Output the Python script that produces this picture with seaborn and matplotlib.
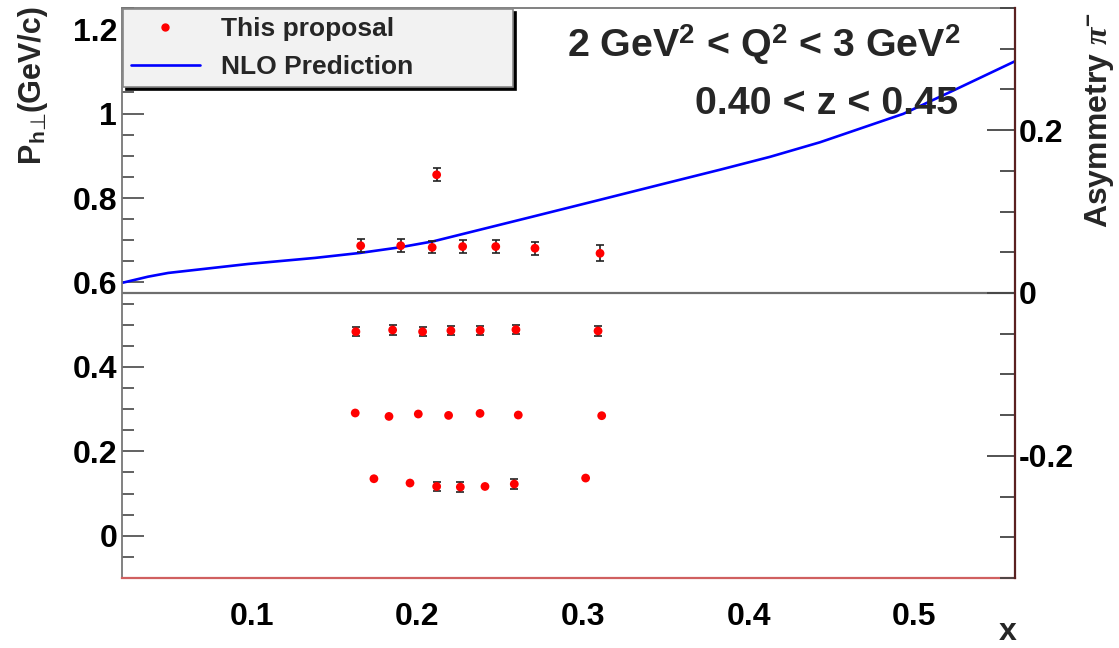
import numpy as np
import pandas as pd
import seaborn as sns
import matplotlib
matplotlib.use("Agg")
import matplotlib.pyplot as plt
from matplotlib.ticker import MultipleLocator, FixedLocator, FuncFormatter
from matplotlib.lines import Line2D

# ---------------- data ----------------
# projected asymmetry points (plotted on the P_h-perp scale)
row1_x = [0.1657, 0.1899, 0.2089, 0.2273, 0.2473, 0.2710, 0.3103, 0.2116]
row1_y = [0.687, 0.687, 0.683, 0.685, 0.685, 0.681, 0.669, 0.855]
row1_err = [0.016, 0.015, 0.014, 0.015, 0.016, 0.015, 0.019, 0.015]

row2_x = [0.1628, 0.1850, 0.2031, 0.2202, 0.2379, 0.2595, 0.3091]
row2_y = [0.4834, 0.4874, 0.4834, 0.4858, 0.4865, 0.4882, 0.4851]
row2_err = [0.011, 0.011, 0.010, 0.010, 0.011, 0.011, 0.011]

row3_x = [0.1624, 0.1828, 0.2005, 0.2188, 0.2378, 0.2609, 0.3113]
row3_y = [0.2908, 0.2827, 0.2884, 0.2851, 0.2898, 0.2860, 0.2844]
row3_err = [0.0, 0.0, 0.0, 0.0, 0.0, 0.0, 0.0]

row4_x = [0.1737, 0.1955, 0.2116, 0.2259, 0.2408, 0.2585, 0.3016]
row4_y = [0.1351, 0.1249, 0.1168, 0.1154, 0.1168, 0.1225, 0.1367]
row4_err = [0.0, 0.0, 0.011, 0.011, 0.0, 0.012, 0.0]

# NLO prediction curve
nlo_x = [0.0213, 0.0373, 0.0494, 0.0978, 0.1381, 0.1653, 0.1894, 0.2096,
         0.2680, 0.3083, 0.3485, 0.3828, 0.4130, 0.4432, 0.4935, 0.5237, 0.5610]
nlo_y = [0.5988, 0.6137, 0.6225, 0.6438, 0.6581, 0.6699, 0.6832, 0.6974,
         0.7543, 0.7938, 0.8334, 0.8670, 0.8975, 0.9320, 0.9993, 1.0545, 1.1239]

x_ticks = [0.1, 0.2, 0.3, 0.4, 0.5]
y_ticks = [0, 0.2, 0.4, 0.6, 0.8, 1, 1.2]
asym_ticks = [-0.2, 0, 0.2]
zero_line_level = 0.575

legend_labels = ["This proposal", "NLO Prediction"]
title_line1 = r"2 GeV$^{2}$ < Q$^{2}$ < 3 GeV$^{2}$"
title_line2 = "0.40 < z < 0.45"
ylabel_parts = ["(GeV/c)", "⊥", "h", "P"]

# ---------------- style ----------------
sns.set_theme(style="white")
plt.rcParams["font.family"] = ["Liberation Sans", "DejaVu Sans"]
plt.rcParams["font.weight"] = "bold"
plt.rcParams["mathtext.fontset"] = "custom"
plt.rcParams["mathtext.rm"] = "Liberation Sans:bold"
plt.rcParams["mathtext.bf"] = "Liberation Sans:bold"
plt.rcParams["mathtext.it"] = "Liberation Serif:italic"

W, H = 1119, 648
fig = plt.figure(figsize=(W / 100, H / 100), dpi=100)
ax = fig.add_axes([122 / W, (H - 578) / H, (1015 - 122) / W, (578 - 8) / H])

pts = pd.concat([
    pd.DataFrame({"x": row1_x, "y": row1_y, "err": row1_err}),
    pd.DataFrame({"x": row2_x, "y": row2_y, "err": row2_err}),
    pd.DataFrame({"x": row3_x, "y": row3_y, "err": row3_err}),
    pd.DataFrame({"x": row4_x, "y": row4_y, "err": row4_err}),
], ignore_index=True)
nlo = pd.DataFrame({"x": nlo_x, "y": nlo_y})

# zero-asymmetry line
ax.axhline(zero_line_level, color="#6e6e6e", lw=1.6, zorder=1)

# NLO line
sns.lineplot(data=nlo, x="x", y="y", ax=ax, color="#0000ff", lw=1.9,
             zorder=2, legend=False)

# error bars
eb = pts[pts["err"] > 0]
ax.errorbar(eb["x"], eb["y"], yerr=eb["err"], fmt="none", ecolor="#222222",
            elinewidth=1.2, capsize=3, capthick=1.2, zorder=3)
sns.scatterplot(data=pts, x="x", y="y", ax=ax, color="#ff0000", s=40,
                edgecolor="none", zorder=4, legend=False)

ax.set_xlim(0.0215, 0.561)
ax.set_ylim(-0.1, 1.25)
ax.set_xlabel("")
ax.set_ylabel("")

fmt = FuncFormatter(lambda v, p: "%g" % v)
ax.xaxis.set_major_locator(FixedLocator(x_ticks))
ax.xaxis.set_minor_locator(MultipleLocator(0.02))
ax.yaxis.set_major_locator(FixedLocator(y_ticks))
ax.yaxis.set_minor_locator(MultipleLocator(0.05))
ax.xaxis.set_major_formatter(fmt)
ax.yaxis.set_major_formatter(fmt)

ax.tick_params(axis="both", which="both", direction="in", colors="#555555",
               labelcolor="black", labelsize=23, width=1.3)
ax.tick_params(axis="x", which="major", length=13, pad=17)
ax.tick_params(axis="x", which="minor", length=6.5)
ax.tick_params(axis="y", which="major", length=16, pad=3.5)
ax.tick_params(axis="y", which="minor", length=8.5)
ax.tick_params(top=False, right=False, which="both")
for lab in ax.get_xticklabels() + ax.get_yticklabels():
    lab.set_fontweight("bold")

for side in ["left", "top"]:
    ax.spines[side].set_color("#777777")
    ax.spines[side].set_linewidth(1.3)
ax.spines["bottom"].set_color("#d06060")
ax.spines["bottom"].set_linewidth(1.6)
ax.spines["right"].set_visible(False)

# right asymmetry axis
ax2 = ax.twinx()
ax2.set_ylim(-0.35, 0.35)
ax2.yaxis.set_major_locator(FixedLocator(asym_ticks))
ax2.yaxis.set_minor_locator(MultipleLocator(0.05))
ax2.yaxis.set_major_formatter(fmt)
ax2.tick_params(axis="y", which="both", direction="in", colors="#444444",
                labelcolor="black", labelsize=23, width=1.3, pad=3)
ax2.tick_params(axis="y", which="major", length=20)
ax2.tick_params(axis="y", which="minor", length=11)
for lab in ax2.get_yticklabels():
    lab.set_fontweight("bold")
for side in ["left", "top", "bottom"]:
    ax2.spines[side].set_visible(False)
ax2.spines["right"].set_color("#5a2020")
ax2.spines["right"].set_linewidth(1.6)
ax2.grid(False)
ax.grid(False)

# ---- left axis title, composed from rotated pieces (top -> bottom) ----
fig.canvas.draw()
renderer = fig.canvas.get_renderer()
cx = 31.0
y_top = H - 4.0
piece_style = [
    dict(fontsize=22, family=["Liberation Sans"], weight="bold", dx=0.0),
    dict(fontsize=15, family=["DejaVu Sans"], weight="normal", dx=7.0),
    dict(fontsize=15, family=["Liberation Sans"], weight="bold", dx=7.0),
    dict(fontsize=22, family=["Liberation Sans"], weight="bold", dx=0.0),
]
for txt, st in zip(ylabel_parts, piece_style):
    t = fig.text((cx + st["dx"]) / W, y_top / H, txt, rotation=90,
                 ha="center", va="top", fontsize=st["fontsize"],
                 family=st["family"], fontweight=st["weight"])
    bb = t.get_window_extent(renderer)
    y_top = bb.y0

fig.text(1100 / W, 1 - 12 / H, r"Asymmetry $\pi^{-}$", rotation=90,
         ha="center", va="top", fontsize=23, fontweight="bold")
fig.text(1017 / W, 1 - 632 / H, "x", ha="right", va="center",
         fontsize=23, fontweight="bold")

# annotations
fig.text(960 / W, 1 - 45 / H, title_line1, ha="right", va="center",
         fontsize=28.4, fontweight="bold")
fig.text(958 / W, 1 - 104 / H, title_line2, ha="right", va="center",
         fontsize=28.4, fontweight="bold")

# legend
handles = [Line2D([], [], ls="none", marker="o", color="#ff0000", ms=5),
           Line2D([], [], color="#0000ff", lw=1.9)]
leg = ax.legend(handles, legend_labels, loc="upper left",
                bbox_to_anchor=(123 / W, 1 - 85 / H, 390 / W, 76 / H),
                bbox_transform=fig.transFigure, mode="expand",
                fancybox=False, shadow={"color": "black", "alpha": 1.0},
                facecolor="#f2f2f2", edgecolor="#888888", framealpha=1,
                fontsize=19, handlelength=2.6, handletextpad=0.8,
                labelspacing=0.54, borderpad=0.3, borderaxespad=0)
leg.get_frame().set_linewidth(1.2)
for t in leg.get_texts():
    t.set_fontweight("bold")
leg.set_zorder(10)

fig.savefig("out.png", dpi=100, facecolor="white")
